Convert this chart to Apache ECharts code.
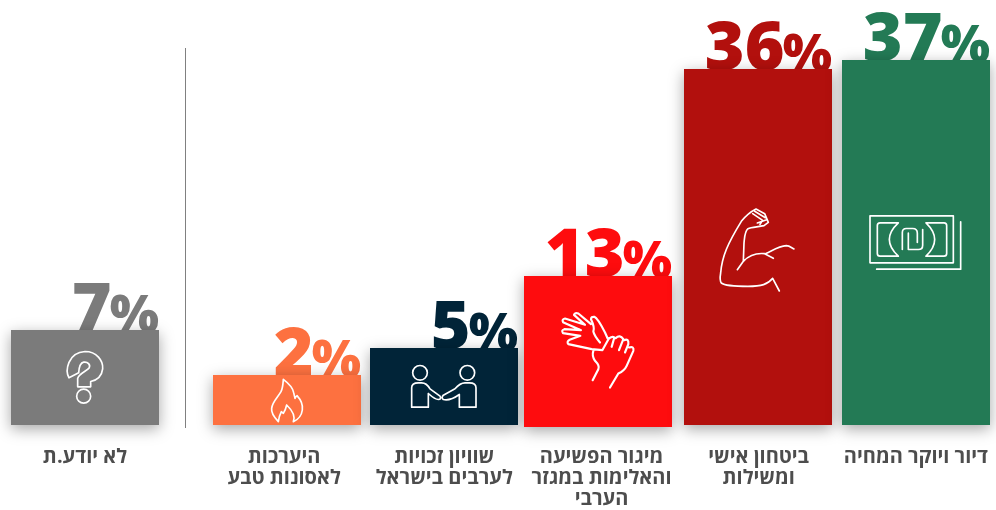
<!DOCTYPE html>
<html lang="he">
<head>
<meta charset="utf-8">
<title>chart</title>
<script src="https://cdn.jsdelivr.net/npm/echarts@6/dist/echarts.min.js"></script>
<style>
  html, body { margin: 0; padding: 0; background: #fff; }
  #chart { width: 996px; height: 510px; }
</style>
</head>
<body>
<div id="chart"></div>
<script>
// left to right, as in the picture
const topics = ['היערכות\nלאסונות טבע', 'שוויון זכויות\nלערבים בישראל', 'מיגור הפשיעה\nוהאלימות במגזר\nהערבי', 'ביטחון אישי\nומשילות', 'דיור ויוקר המחיה'];
const topicShares = [2, 5, 13, 36, 37];
const otherTopics = ['לא יודע.ת'];
const otherShares = [7];

const topicColors = ['#fd7140', '#012438', '#fe0c0e', '#b2100d', '#237a55'];
const otherColors = ['#7b7b7b'];
const topicIcons = ['flame', 'handshake', 'hands', 'arm', 'money'];
const otherIcons = ['question'];
// the original bars are not evenly spaced, and the red one hangs 2px lower
const topicNudge = [0, 0, -3.5, -0.7, 0];
const topicDrop = [0, 0, 2, 0, 0];

// icons drawn in a 3x grid around their own centre
const iconPaths = {
  money: 'M-138,-80H112V61H-138Z M134,-62V80H-118 ' +
    'M-53,-59H-108Q-116,-59 -116,-51V33Q-116,41 -108,41H-53Q-107,-9 -53,-59Z ' +
    'M30,-59H84Q92,-59 92,-51V33Q92,41 84,41H30Q82,-9 30,-59Z ' +
    'M-41,21V-30Q-41,-42 -29,-42H-10Q4,-42 4,-28V0 M-23,-28V21H7Q20,21 20,8V-39',
  arm: 'M64,132L44,94C30,112 10,118 -30,118C-70,118 -100,116 -110,108C-116,100 -114,90 -112,78' +
    'C-108,28 -90,-12 -50,-77C-38,-92 -20,-107 -6,-114L20,-100L31,-74L18,-64C0,-60 -20,-60 -30,-55' +
    'C-40,-47 -40,-32 -42,-12L-44,43L-62,68 ' +
    'M-44,43C-25,23 0,18 20,20L46,34 M22,20C40,13 60,-2 85,-4C95,-4 100,2 108,6 ' +
    'M-10,-107L22,-88 M-2,-72L26,-82 M-16,-100L14,-80L6,-68',
  hands: 'M-21,-79L-59,-111Q-69,-115 -72,-107L-39,-77L-99,-96Q-109,-94 -105,-85L-51,-61L-101,-64' +
    'Q-111,-61 -105,-52L-53,-44L-85,-32Q-95,-27 -89,-19L-19,-4L13,-1 ' +
    'M-14,-57Q-9,-69 -21,-94Q-21,-102 -11,-101Q-1,-97 21,-54L29,-36 M-14,-57Q-11,-44 6,-24 ' +
    'M13,-1L33,-37 M31,-34Q41,-44 49,-39L41,-11 M53,-37Q66,-49 76,-34L63,-1 M78,-31Q93,-37 91,-19L81,6 ' +
    'M93,-9Q109,-14 106,1L86,46Q79,61 61,69L36,111 M-14,1Q-19,16 -9,31Q6,46 1,56L-16,89',
  handshake: 'M-94,-41A22,22 0 1 0 -50,-41A22,22 0 1 0 -94,-41Z M48,-41A22,22 0 1 0 92,-41A22,22 0 1 0 48,-41Z ' +
    'M-97,62V4Q-97,-11 -77,-11H-67Q-52,-11 -42,7L-12,29Q-7,39 -17,39Q-27,39 -47,21V62Z ' +
    'M96,62V4Q96,-11 76,-11H63Q48,-11 33,7L-2,26Q-9,34 -2,39Q18,44 46,24V62Z',
  flame: 'M-26,65C-40,50 -48,38 -46,25C-44,5 -30,-5 -18,-25C-12,-38 -12,-50 -11,-62C5,-50 18,-35 20,-22' +
    'L24,-5C26,-10 28,-12 30,-13C42,0 48,15 46,30C44,45 35,58 19,65C25,50 20,35 -1,15' +
    'C-3,25 -8,35 -11,40L-17,35C-22,45 -25,55 -26,65Z',
  question: 'M-48,1C-60,-20 -52,-75 0,-78C35,-78 55,-50 53,-26C50,0 35,8 17,12V28H-22V3' +
    'C-20,-10 5,-20 12,-28C18,-38 8,-48 -4,-46C-14,-44 -18,-30 -19,-14Z ' +
    'M-25,56A21,21 0 1 0 17,56A21,21 0 1 0 -25,56Z'
};

const barWidth = 148;
const font = '"Open Sans", "Noto Sans", sans-serif';

function shareBars(colors, icons, nudge, drop) {
  return function (params, api) {
    const i = params.dataIndex;
    const top = api.coord([api.value(0), api.value(1)]);
    const base = api.coord([api.value(0), -3.5]);
    const left = Math.round(top[0] - barWidth / 2 + (nudge ? nudge[i] : 0));
    const right = left + barWidth;
    const y = Math.round(top[1] - 0.1);
    const bottom = base[1] + (drop ? drop[i] : 0);
    return {
      type: 'group',
      children: [
        {
          type: 'text',
          style: {
            text: String(api.value(1)), x: right - 47.5, y: y + 16,
            align: 'right', verticalAlign: 'bottom',
            fill: colors[i], font: '800 68px ' + font
          }
        },
        {
          type: 'text',
          style: {
            text: '%', x: right, y: y + 13,
            align: 'right', verticalAlign: 'bottom',
            fill: colors[i], font: '800 52px ' + font
          }
        },
        {
          type: 'rect',
          shape: { x: left, y: y, width: barWidth, height: bottom - y },
          style: {
            fill: colors[i], shadowBlur: 14, shadowOffsetY: 4,
            shadowColor: 'rgba(0,0,0,0.35)'
          }
        },
        {
          type: 'path',
          x: left + barWidth / 2,
          y: (y + base[1]) / 2,
          scaleX: 1 / 3,
          scaleY: 1 / 3,
          shape: { pathData: iconPaths[icons[i]] },
          style: {
            fill: 'none', stroke: '#fff', lineJoin: 'round', lineCap: 'round',
            lineWidth: icons[i] === 'hands' ? 6.5 : 5
          }
        }
      ]
    };
  };
}

const axisLabel = {
  interval: 0,
  margin: 22,
  color: '#4d4d4d',
  fontFamily: font,
  fontWeight: 'bold',
  fontSize: 20,
  lineHeight: 21
};

let option = {
  animation: false,
  // outerBoundsMode none: the three-line label must not squeeze the grid
  grid: [
    { left: 208.5, width: 786, top: 11, height: 414, outerBoundsMode: 'none' },
    { left: 6, width: 158, top: 11, height: 414, outerBoundsMode: 'none' }
  ],
  xAxis: [
    {
      type: 'category',
      gridIndex: 0,
      // first label sits a little left of its bar in the original
      data: topics.map((t, i) => (i === 0 ? { value: t, textStyle: { padding: [0, 6, 0, 0] } } : t)),
      axisLine: { show: false },
      axisTick: { show: false },
      axisLabel: axisLabel
    },
    { type: 'category', gridIndex: 1, data: otherTopics, axisLine: { show: false }, axisTick: { show: false }, axisLabel: axisLabel }
  ],
  // the bars start below zero in the original, so min is not 0
  yAxis: [
    { type: 'value', gridIndex: 0, min: -3.5, max: 42.5, show: false },
    { type: 'value', gridIndex: 1, min: -3.5, max: 42.5, show: false }
  ],
  series: [
    {
      type: 'custom',
      xAxisIndex: 1,
      yAxisIndex: 1,
      encode: { x: 0, y: 1 },
      renderItem: shareBars(otherColors, otherIcons),
      data: otherShares.map((v, i) => [i, v])
    },
    {
      type: 'custom',
      xAxisIndex: 0,
      yAxisIndex: 0,
      encode: { x: 0, y: 1 },
      renderItem: shareBars(topicColors, topicIcons, topicNudge, topicDrop),
      data: topicShares.map((v, i) => [i, v])
    }
  ],
  graphic: [
    {
      type: 'line',
      shape: { x1: 185.5, y1: 48, x2: 185.5, y2: 428 },
      style: { stroke: '#808080', lineWidth: 1 }
    }
  ]
};

let chart = echarts.init(document.getElementById('chart'));

chart.setOption(option);
</script>
</body>
</html>
